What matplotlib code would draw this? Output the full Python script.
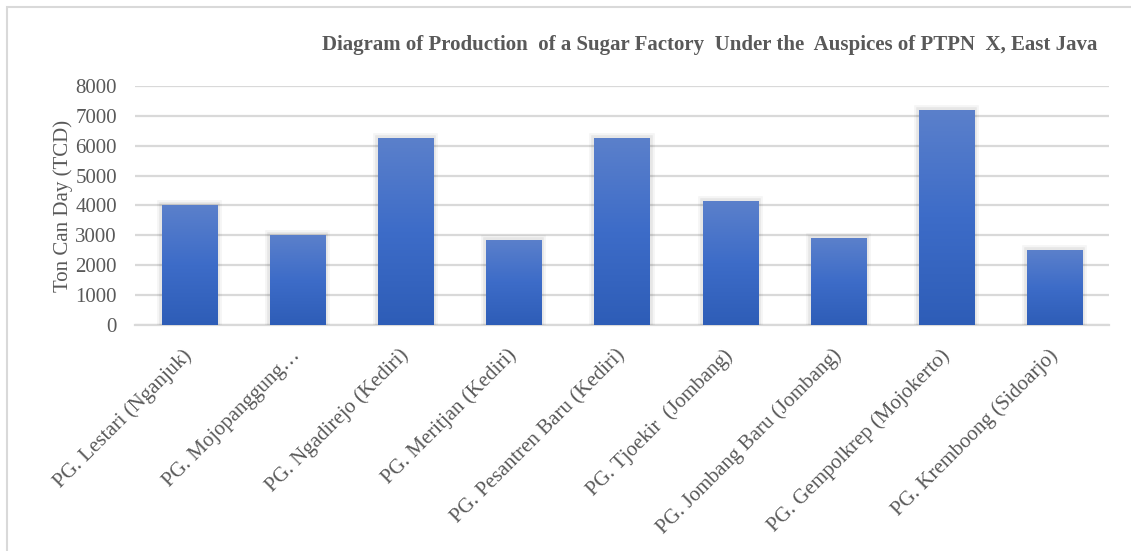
import numpy as np
import matplotlib
matplotlib.use("Agg")
import matplotlib.pyplot as plt
import matplotlib.patheffects as pe
from matplotlib.patches import Rectangle
from matplotlib.colors import LinearSegmentedColormap

# data
factories = ["PG. Lestari (Nganjuk)", "PG. Mojopanggung…", "PG. Ngadirejo (Kediri)",
             "PG. Meritjan (Kediri)", "PG. Pesantren Baru (Kediri)", "PG. Tjoekir  (Jombang)",
             "PG. Jombang Baru (Jombang)", "PG. Gempolkrep (Mojokerto)", "PG. Kremboong (Sidoarjo)"]
tcd = [4000, 3000, 6250, 2850, 6250, 4150, 2900, 7200, 2500]
yticks = [0, 1000, 2000, 3000, 4000, 5000, 6000, 7000, 8000]

plt.rcParams['font.family'] = ['Liberation Serif', 'DejaVu Serif']
txt = '#595959'

fig = plt.figure(figsize=(11.31, 5.51), dpi=100)
# light frame around the chart area
fig.patches.append(Rectangle((7 / 1131, -0.05), 1.2, 1 - 7 / 551 + 0.05, transform=fig.transFigure,
                             fill=False, edgecolor='#d9d9d9', linewidth=1.5))

ax = fig.add_axes([135 / 1131, 1 - 325 / 551, (1109 - 135) / 1131, (325 - 86) / 551])
x = np.arange(len(factories))
bars = ax.bar(x, tcd, width=0.51, color='#4472c4', zorder=3,
              path_effects=[pe.Stroke(linewidth=7, foreground='#000000', alpha=0.04),
                            pe.Stroke(linewidth=4, foreground='#000000', alpha=0.06),
                            pe.Normal()])

# vertical gradient fill like the office-style bars
cmap = LinearSegmentedColormap.from_list('grad', ['#2e5db7', '#3d6cc8', '#5b80cb'])
grad = np.linspace(0, 1, 256).reshape(-1, 1)
for b in bars:
    x0, w, h = b.get_x(), b.get_width(), b.get_height()
    im = ax.imshow(grad, cmap=cmap, origin='lower', aspect='auto',
                   extent=[x0, x0 + w, 0, h], zorder=4)
    im.set_clip_path(b)

ax.set_xlim(-0.5, len(factories) - 0.5)
ax.set_ylim(0, 8000)
ax.set_yticks(yticks)
ax.yaxis.grid(True, color='#d9d9d9', linewidth=1.6, zorder=0)
ax.set_axisbelow(True)
for s in ['top', 'right', 'left']:
    ax.spines[s].set_visible(False)
ax.spines['bottom'].set_color('#d9d9d9')
ax.spines['bottom'].set_linewidth(1.6)

ax.set_xticks(x)
ax.set_xticklabels(factories, rotation=45, ha='right', va='center', rotation_mode='anchor')
ax.tick_params(axis='both', length=0, labelsize=15, labelcolor=txt)
ax.tick_params(axis='y', pad=13)
ax.tick_params(axis='x', pad=20)

ax.set_ylabel('Ton Can Day (TCD)', fontsize=15, color=txt, labelpad=2)
fig.text(710 / 1131, 1 - 45 / 551, 'Diagram of Production  of a Sugar Factory  Under the  Auspices of PTPN  X, East Java',
         ha='center', va='center', fontsize=15, fontweight='bold', color=txt)

fig.savefig('out.png', dpi=100, facecolor='white')
